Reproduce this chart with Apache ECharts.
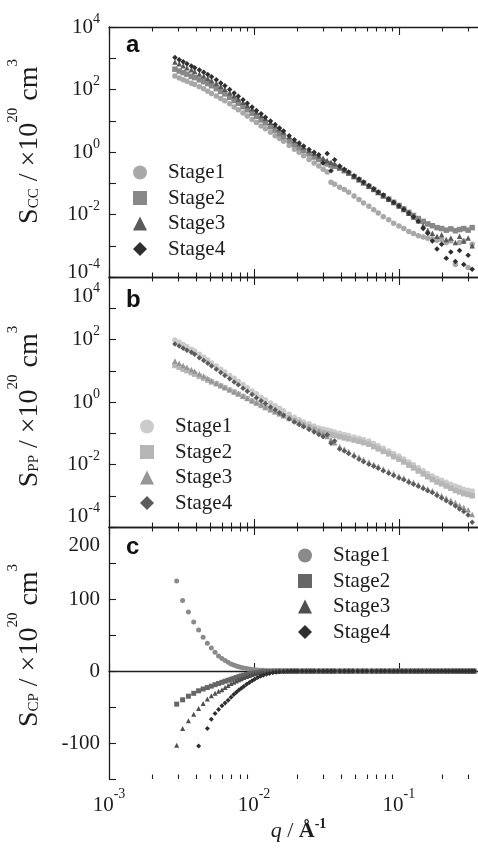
<!DOCTYPE html>
<html>
<head>
<meta charset="utf-8">
<title>S(q) stages</title>
<script src="https://cdn.jsdelivr.net/npm/echarts@6/dist/echarts.min.js"></script>
<style>
  html, body { margin: 0; padding: 0; background: #fff; }
  #main { width: 478px; height: 848px; }
</style>
</head>
<body>
<div id="main"></div>
<script>
// q (1/Å) shared by panels a and b
var qAB = [0.00285, 0.00305, 0.00325, 0.00345, 0.0037, 0.0039, 0.0042, 0.0045, 0.0048, 0.0051,
  0.0055, 0.0059, 0.0063, 0.0068, 0.0073, 0.0078, 0.0084, 0.009, 0.0097, 0.0104,
  0.0112, 0.012, 0.013, 0.014, 0.015, 0.016, 0.0175, 0.019, 0.0205, 0.022,
  0.024, 0.026, 0.028, 0.03, 0.032, 0.034, 0.036, 0.039, 0.042, 0.045,
  0.049, 0.053, 0.057, 0.062, 0.067, 0.072, 0.078, 0.085, 0.092, 0.1,
  0.108, 0.117, 0.126, 0.136, 0.147, 0.158, 0.17, 0.183, 0.197, 0.212,
  0.228, 0.245, 0.262, 0.28, 0.3, 0.32];

// panel a : S_CC
var sccStage1 = [269, 234, 204, 182, 158, 145, 123, 105, 87.1, 74.1,
  61.7, 51.3, 43.7, 34.7, 27.5, 22.4, 17.8, 14.1, 11.0, 8.71,
  6.76, 5.50, 4.27, 3.31, 2.69, 2.19, 1.62, 1.23, 0.977, 0.759,
  0.575, 0.447, 0.355, 0.282, 0.229, 0.107, 0.0933, 0.0741, 0.0631, 0.0513,
  0.0389, 0.0302, 0.0234, 0.0182, 0.0141, 0.0112, 0.00851, 0.00676, 0.00525, 0.00427,
  0.00355, 0.00288, 0.00245, 0.00209, 0.00191, 0.00174, 0.00166, 0.00151, 0.00158, 0.00126,
  0.00141, 0.000251, 0.00126, 0.00141, 0.000200, 0.00112];
var sccStage2 = [447, 389, 347, 309, 263, 240, 204, 178, 155, 132,
  107, 87.1, 72.4, 56.2, 44.7, 36.3, 28.2, 22.4, 17.4, 13.8,
  10.7, 8.51, 6.46, 5.01, 3.89, 3.09, 2.29, 1.74, 1.38, 1.12,
  0.871, 0.692, 0.575, 0.490, 0.417, 0.380, 0.347, 0.302, 0.251, 0.209,
  0.162, 0.129, 0.102, 0.0794, 0.0631, 0.0501, 0.0398, 0.0309, 0.0245, 0.0195,
  0.0151, 0.0117, 0.00933, 0.00741, 0.00603, 0.00501, 0.00437, 0.00380, 0.00355, 0.00316,
  0.00347, 0.00302, 0.00331, 0.00355, 0.00316, 0.00380];
var sccStage3 = [759, 661, 575, 501, 427, 380, 316, 269, 229, 195,
  158, 126, 102, 79.4, 63.1, 50.1, 38.9, 30.9, 24.0, 19.1,
  14.8, 11.7, 8.91, 7.08, 5.50, 4.37, 3.16, 2.34, 1.82, 1.45,
  1.12, 0.912, 0.759, 0.631, 0.537, 0.468, 0.417, 0.331, 0.269, 0.219,
  0.166, 0.132, 0.105, 0.0813, 0.0646, 0.0513, 0.0398, 0.0309, 0.0240, 0.0186,
  0.0145, 0.0110, 0.00832, 0.00631, 0.00447, 0.00316, 0.00251, 0.00200, 0.00224, 0.00158,
  0.00178, 0.00126, 0.00200, 0.00141, 0.00178, 0.00100];
var sccStage4 = [1050, 891, 776, 661, 562, 501, 417, 355, 302, 257,
  204, 162, 132, 100, 77.6, 60.3, 46.8, 36.3, 27.5, 21.4,
  16.6, 12.9, 9.77, 7.59, 5.89, 4.68, 3.31, 2.45, 1.95, 1.55,
  1.20, 0.977, 0.813, 0.447, 0.891, 0.251, 0.562, 0.355, 0.282, 0.229,
  0.174, 0.138, 0.110, 0.0851, 0.0661, 0.0525, 0.0417, 0.0316, 0.0245, 0.0191,
  0.0148, 0.0112, 0.00851, 0.00603, 0.00355, 0.00251, 0.00141, 0.000794, 0.00112, 0.000398,
  0.000631, 0.000316, 0.000708, 0.000251, 0.000501, 0.000178];

// panel b : S_PP
var sppStage1 = [95.5, 81.3, 69.2, 58.9, 49.0, 42.7, 33.9, 26.9, 21.9, 17.8,
  14.1, 11.2, 9.12, 7.08, 5.75, 4.57, 3.63, 2.88, 2.24, 1.82,
  1.41, 1.17, 0.933, 0.759, 0.631, 0.525, 0.407, 0.324, 0.269, 0.229,
  0.200, 0.170, 0.148, 0.138, 0.126, 0.117, 0.110, 0.100, 0.0912, 0.0851,
  0.0759, 0.0692, 0.0631, 0.0562, 0.0468, 0.0398, 0.0331, 0.0269, 0.0224, 0.0186,
  0.0151, 0.0120, 0.00977, 0.00794, 0.00631, 0.00513, 0.00427, 0.00363, 0.00316, 0.00269,
  0.00234, 0.00204, 0.00182, 0.00162, 0.00151, 0.00141];
var sppStage2 = [14.8, 12.9, 11.2, 10.0, 8.71, 7.76, 6.61, 5.75, 5.01, 4.37,
  3.80, 3.24, 2.82, 2.40, 2.09, 1.78, 1.51, 1.29, 1.07, 0.912,
  0.776, 0.661, 0.562, 0.479, 0.417, 0.363, 0.302, 0.251, 0.214, 0.186,
  0.158, 0.135, 0.117, 0.105, 0.0977, 0.0912, 0.0851, 0.0776, 0.0708, 0.0661,
  0.0603, 0.0550, 0.0501, 0.0447, 0.0372, 0.0316, 0.0263, 0.0219, 0.0178, 0.0148,
  0.0120, 0.00955, 0.00776, 0.00617, 0.00501, 0.00407, 0.00331, 0.00275, 0.00240, 0.00204,
  0.00174, 0.00148, 0.00132, 0.00117, 0.00110, 0.00100];
var sppStage3 = [20.4, 17.4, 14.8, 12.9, 11.0, 9.55, 7.94, 6.76, 5.62, 4.79,
  4.07, 3.47, 2.95, 2.51, 2.14, 1.86, 1.55, 1.32, 1.12, 0.955,
  0.813, 0.692, 0.575, 0.501, 0.427, 0.372, 0.309, 0.263, 0.224, 0.191,
  0.162, 0.138, 0.117, 0.100, 0.0794, 0.0631, 0.0501, 0.0380, 0.0316, 0.0263,
  0.0214, 0.0174, 0.0145, 0.0120, 0.0102, 0.00871, 0.00724, 0.00603, 0.00513, 0.00427,
  0.00372, 0.00309, 0.00269, 0.00229, 0.00195, 0.00166, 0.00145, 0.00120, 0.00102, 0.000851,
  0.000724, 0.000603, 0.000501, 0.000427, 0.000355, 0.000251];
var sppStage4 = [72.4, 61.7, 52.5, 45.7, 38.9, 33.9, 26.3, 21.4, 17.4, 14.1,
  11.2, 8.71, 7.08, 5.50, 4.37, 3.55, 2.75, 2.19, 1.74, 1.38,
  1.10, 0.891, 0.692, 0.562, 0.457, 0.380, 0.288, 0.229, 0.191, 0.162,
  0.132, 0.110, 0.0912, 0.0776, 0.0891, 0.0479, 0.0562, 0.0316, 0.0269, 0.0224,
  0.0182, 0.0148, 0.0123, 0.0102, 0.00871, 0.00759, 0.00631, 0.00525, 0.00447, 0.00372,
  0.00324, 0.00269, 0.00234, 0.00200, 0.00170, 0.00145, 0.00126, 0.00102, 0.000851, 0.000692,
  0.000575, 0.000468, 0.000380, 0.000316, 0.000240, 0.000141];

// panel c : S_CP (linear)
var qC = [0.00293, 0.00322, 0.00353, 0.00384, 0.00415, 0.00446, 0.00477, 0.00508, 0.00539, 0.0057,
  0.00601, 0.00632, 0.00663, 0.00694, 0.00725, 0.00756, 0.00787, 0.00818, 0.0085, 0.0089,
  0.0093, 0.0097, 0.0101, 0.0106, 0.0111, 0.0116, 0.0122, 0.0128, 0.0135, 0.0142,
  0.015, 0.016, 0.017, 0.018, 0.019, 0.02, 0.0215, 0.023, 0.0245, 0.026,
  0.028, 0.03, 0.032, 0.034, 0.036, 0.039, 0.042, 0.045, 0.048, 0.052,
  0.056, 0.06, 0.065, 0.07, 0.075, 0.08, 0.086, 0.092, 0.098, 0.105,
  0.112, 0.12, 0.128, 0.136, 0.145, 0.155, 0.165, 0.175, 0.186, 0.197,
  0.209, 0.221, 0.234, 0.247, 0.26, 0.274, 0.288, 0.303, 0.318, 0.33];
var scpStage1 = [125, 98, 82, 68, 57, 47, 38.5, 32, 26, 21,
  17.3, 14.5, 12, 9.8, 8.2, 7, 5.8, 4.9, 4.1, 3.3,
  2.7, 2.2, 1.8, 1.4, 1.1, 0.9, 0.7, 0.5, 0.4, 0.3,
  0.2, 0.1, 0.1, 0, 0, 0, 0, 0, 0, 0,
  0, 0, 0, 0, 0, 0, 0, 0, 0, 0,
  0, 0, 0, 0, 0, 0, 0, 0, 0, 0,
  0, 0, 0, 0, 0, 0, 0, 0, 0, 0,
  0, 0, 0, 0, 0, 0, 0, 0, 0, 0];
var scpStage2 = [-46, -40, -35, -31, -27.5, -25, -23, -21, -19, -17.3,
  -15.7, -14.2, -12.8, -11.5, -10.2, -9, -7.8, -6.8, -5.8, -4.8,
  -3.9, -3.1, -2.5, -1.9, -1.4, -1.0, -0.7, -0.5, -0.3, -0.2,
  -0.1, 0, 0, 0, 0, 0, 0, 0, 0, 0,
  0, 0, 0, 0, 0, 0, 0, 0, 0, 0,
  0, 0, 0, 0, 0, 0, 0, 0, 0, 0,
  0, 0, 0, 0, 0, 0, 0, 0, 0, 0,
  0, 0, 0, 0, 0, 0, 0, 0, 0, 0];
var scpStage3 = [-103, -80, -69, -60, -52, -45, -39, -34.5, -31, -28,
  -26, -23, -20, -17.5, -15.5, -14, -12.3, -10.8, -9.2, -7.6,
  -6.2, -4.8, -3.8, -2.9, -2.2, -1.6, -1.1, -0.8, -0.5, -0.3,
  -0.2, -0.1, 0, 0, 0, 0, 0, 0, 0, 0,
  0, 0, 0, 0, 0, 0, 0, 0, 0, 0,
  0, 0, 0, 0, 0, 0, 0, 0, 0, 0,
  0, 0, 0, 0, 0, 0, 0, 0, 0, 0,
  0, 0, 0, 0, 0, 0, 0, 0, 0, 0];
var scpStage4 = [null, null, null, null, -104, null, -80, -67, -59, -53.5,
  -48.3, -44.5, -40.5, -36.5, -32.8, -29.5, -26.5, -24, -21.5, -18.5,
  -15.8, -13.5, -11.3, -9.2, -7.4, -6, -4.6, -3.4, -2.4, -1.7,
  -1.1, -0.6, -0.3, -0.1, 0, 0, 0, 0, 0, 0,
  0, 0, 0, 0, 0, 0, 0, 0, 0, 0,
  0, 0, 0, 0, 0, 0, 0, 0, 0, 0,
  0, 0, 0, 0, 0, 0, 0, 0, 0, 0,
  0, 0, 0, 0, 0, 0, 0, 0, 0, 0];

var stageNames = ['Stage1', 'Stage2', 'Stage3', 'Stage4'];
var stageSymbols = ['circle', 'rect', 'triangle', 'diamond'];

// tick positions
var xMajorTicks = [0.001, 0.01, 0.1];
var xMinorTicks = [0.002, 0.003, 0.004, 0.005, 0.006, 0.007, 0.008, 0.009,
  0.02, 0.03, 0.04, 0.05, 0.06, 0.07, 0.08, 0.09, 0.2, 0.3];
var logTicks = [1e-4, 1e-3, 1e-2, 1e-1, 1, 1e1, 1e2, 1e3, 1e4];
var logLabels = [1e-4, 1e-2, 1, 1e2, 1e4];
var cpTicks = [-150, -100, -50, 0, 50, 100, 150, 200];
var cpLabels = [-100, 0, 100, 200];

var SERIF = 'Liberation Serif';
var INK = '#1c1c1c';

var colorsA = ['#a8a8a8', '#888888', '#5a5a5a', '#2e2e2e'];
var colorsB = ['#cbcbcb', '#b6b6b6', '#969696', '#5c5c5c'];
var colorsC = ['#8a8a8a', '#666666', '#4f4f4f', '#2e2e2e'];

var labelRich = {
  b: { fontFamily: SERIF, fontSize: 21, lineHeight: 22, color: INK },
  s: { fontFamily: SERIF, fontSize: 14, lineHeight: 14, padding: [0, 0, 16, 0], color: INK },
  sx: { fontFamily: SERIF, fontSize: 14, lineHeight: 14, padding: [0, 0, 22, 0], color: INK },
  g10: { fontSize: 1, lineHeight: 10 },
  g22: { fontSize: 1, lineHeight: 22 },
  g36: { fontSize: 1, lineHeight: 36 },
  g38: { fontSize: 1, lineHeight: 38 }
};

var nameRich = {
  t: { fontFamily: SERIF, fontSize: 28, lineHeight: 30, color: INK },
  sub: { fontFamily: SERIF, fontSize: 15, lineHeight: 15, padding: [8, 0, 0, 0], color: INK },
  sup: { fontFamily: SERIF, fontSize: 15, lineHeight: 15, padding: [0, 0, 33, 0], color: INK }
};

// gap line pushes a label down (positive) or up (negative)
function shifted(txt, gap) {
  if (!gap) return txt;
  if (gap > 0) return '{g' + gap + '| }\n' + txt;
  return txt + '\n{g' + (-gap) + '| }';
}

function logYAxis(gi, sub, pad, shifts) {
  return {
    type: 'log', logBase: 10, min: 1e-4, max: 1e4, gridIndex: gi, position: 'left',
    axisLine: { show: true, lineStyle: { color: INK, width: 1.3 } },
    axisTick: { show: true, inside: true, length: 7, customValues: logTicks, lineStyle: { color: INK, width: 1.1 } },
    axisLabel: {
      show: true, margin: 9, customValues: logLabels, rich: labelRich,
      formatter: function (v) {
        var e = Math.round(Math.log10(v));
        return shifted('{b|10}{s|' + e + '}', shifts[e]);
      }
    },
    splitLine: { show: false },
    name: '{t|S}{sub|' + sub + '}{t| / ×10}{sup|20}{t| cm}{sup|3}',
    nameLocation: 'middle', nameRotate: 90, nameGap: 64, nameMoveOverlap: false,
    nameTextStyle: { padding: pad, rich: nameRich }
  };
}

function xAxisSet(gi, withLabels) {
  function ax(pos, ticks, len, line) {
    return {
      type: 'log', logBase: 10, min: 0.001, max: 0.351, gridIndex: gi, position: pos,
      axisLine: { show: line, lineStyle: { color: INK, width: 1.3 } },
      axisTick: { show: true, inside: true, length: len, customValues: ticks, lineStyle: { color: INK, width: 1.1 } },
      axisLabel: { show: false },
      splitLine: { show: false }
    };
  }
  var bottom = ax('bottom', xMajorTicks, 8, true);
  if (withLabels) {
    bottom.axisLabel = {
      show: true, margin: 15, customValues: xMajorTicks, rich: labelRich,
      formatter: function (v) { return '{b|10}{sx|' + Math.round(Math.log10(v)) + '}'; }
    };
    bottom.name = '{q|q}{t| / }{a|Å}{e|-1}';
    bottom.nameLocation = 'middle';
    bottom.nameGap = 40;
    bottom.nameMoveOverlap = false;
    bottom.nameTextStyle = {
      padding: [0, 0, 0, 10],
      rich: {
        q: { fontFamily: SERIF, fontStyle: 'italic', fontSize: 22, lineHeight: 24, color: INK },
        t: { fontFamily: SERIF, fontSize: 22, lineHeight: 24, color: INK },
        a: { fontFamily: SERIF, fontWeight: 'bold', fontSize: 22, lineHeight: 24, color: INK },
        e: { fontFamily: SERIF, fontWeight: 'bold', fontSize: 14, lineHeight: 14, padding: [0, 0, 14, 0], color: INK }
      }
    };
  }
  return [bottom, ax('bottom', xMinorTicks, 4.5, false), ax('top', xMajorTicks, 8, true), ax('top', xMinorTicks, 4.5, false)];
}

var series = [];
function addPanel(q, sets, colors, xi, yi, size) {
  sets.forEach(function (vals, k) {
    var pts = [];
    for (var i = 0; i < q.length; i++) {
      if (vals[i] !== null) pts.push([q[i], vals[i]]);
    }
    series.push({
      type: 'scatter', name: stageNames[k], xAxisIndex: xi, yAxisIndex: yi,
      data: pts, symbol: stageSymbols[k], symbolSize: size,
      itemStyle: { color: colors[k], opacity: 1 }, silent: true, z: 2 + k
    });
  });
}
addPanel(qAB, [sccStage1, sccStage2, sccStage3, sccStage4], colorsA, 0, 0, 5.5);
addPanel(qAB, [sppStage1, sppStage2, sppStage3, sppStage4], colorsB, 4, 1, 5.5);
addPanel(qC, [scpStage1, scpStage2, scpStage3, scpStage4], colorsC, 8, 2, 5);

// icon 14px wide, text pushed right so it starts 28px after the icon centre
function legendAt(left, top, colors) {
  return {
    orient: 'vertical', left: left, top: top, padding: 0,
    itemWidth: 14, itemHeight: 14, itemGap: 4.5, selectedMode: false,
    symbolKeepAspect: true,
    textStyle: { fontFamily: SERIF, fontSize: 21, lineHeight: 20, color: INK, padding: [0, 0, 0, 16] },
    data: stageNames.map(function (n, i) {
      return { name: n, icon: stageSymbols[i], itemStyle: { color: colors[i] } };
    })
  };
}

function letter(txt, top) {
  return {
    text: txt, left: 126, top: top, padding: 0,
    textStyle: { fontFamily: 'Liberation Sans', fontWeight: 'bold', fontSize: 24, color: '#111' }
  };
}

var cpAxis = {
  type: 'value', min: -150, max: 200, interval: 50, gridIndex: 2, position: 'left',
  axisLine: { show: true, lineStyle: { color: INK, width: 1.3 } },
  axisTick: { show: true, inside: true, length: 7, customValues: cpTicks, lineStyle: { color: INK, width: 1.1 } },
  axisLabel: {
    show: true, margin: 9, customValues: cpLabels, rich: labelRich,
    formatter: function (v) { return shifted('{b|' + v + '}', v === 200 ? 36 : 0); }
  },
  splitLine: { show: false },
  name: '{t|S}{sub|CP}{t| / ×10}{sup|20}{t| cm}{sup|3}',
  nameLocation: 'middle', nameRotate: 90, nameGap: 64, nameMoveOverlap: false,
  nameTextStyle: { padding: [0, 0, 0, 15], rich: nameRich }
};

var chart = echarts.init(document.getElementById('main'));
chart.setOption({
  animation: false,
  backgroundColor: '#fff',
  textStyle: { fontFamily: SERIF },
  title: [letter('a', 33), letter('b', 288), letter('c', 535)],
  legend: [legendAt(133, 162, colorsA), legendAt(140, 416, colorsB), legendAt(298, 545, colorsC)],
  grid: [
    { left: 109, top: 27, width: 369, height: 250, outerBoundsMode: 'none' },
    { left: 109, top: 277, width: 369, height: 250, outerBoundsMode: 'none' },
    { left: 109, top: 527, width: 369, height: 252, outerBoundsMode: 'none' }
  ],
  xAxis: [].concat(xAxisSet(0, false), xAxisSet(1, false), xAxisSet(2, true)),
  yAxis: [
    logYAxis(0, 'CC', [0, 0, 0, 21], { '-4': -10 }),
    logYAxis(1, 'PP', [0, 9, 0, 0], { '4': 38, '-4': -22 }),
    cpAxis
  ],
  series: series
});
</script>
</body>
</html>
